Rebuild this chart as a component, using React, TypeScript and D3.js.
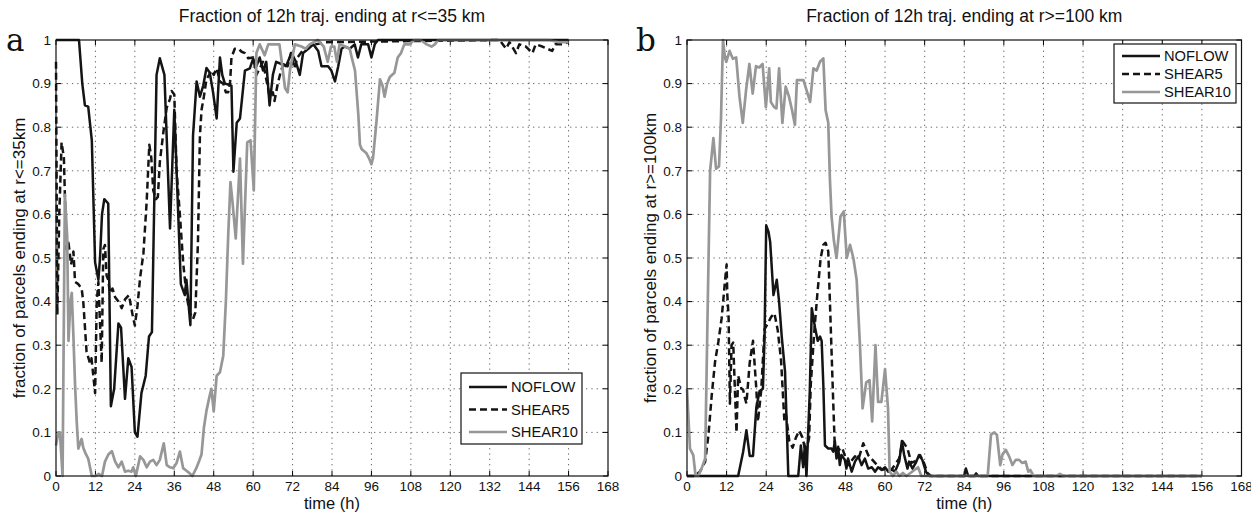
import React from 'react';
import * as d3 from 'd3';

// ---------- data ----------
const timeTicks = [0, 12, 24, 36, 48, 60, 72, 84, 96, 108, 120, 132, 144, 156, 168];
const fracTicks = [0, 0.1, 0.2, 0.3, 0.4, 0.5, 0.6, 0.7, 0.8, 0.9, 1];
const fracTickLabels = ['0', '0.1', '0.2', '0.3', '0.4', '0.5', '0.6', '0.7', '0.8', '0.9', '1'];
const seriesNames = ['NOFLOW', 'SHEAR5', 'SHEAR10'];
const titles = ['Fraction of 12h traj. ending at r<=35 km', 'Fraction of 12h traj. ending at r>=100 km'];
const yLabels = ['fraction of parcels ending at r<=35km', 'fraction of parcels ending at r>=100km'];
const xLabel = 'time (h)';
const panelLetters = ['a', 'b'];

type P = [number, number];

const aNoflow: P[] = [
  [0, 1], [7, 1], [8, 0.9], [8.8, 0.85], [9.8, 0.847], [10.9, 0.77], [11.9, 0.49], [12.9, 0.45], [13.4, 0.5],
  [14, 0.6], [14.7, 0.635], [15.9, 0.625], [16.7, 0.16], [17.7, 0.2], [19, 0.35], [19.8, 0.34], [21, 0.177],
  [22, 0.27], [23, 0.25], [24, 0.1], [24.8, 0.09], [26, 0.19], [27.3, 0.23], [28.3, 0.32], [29.2, 0.33],
  [30.6, 0.92], [31.6, 0.958], [33, 0.92], [34.7, 0.568], [36, 0.84], [38, 0.44], [39.2, 0.415], [39.7, 0.45],
  [40.9, 0.346], [41.7, 0.78], [42.8, 0.905], [43.8, 0.87], [44.8, 0.895], [45.8, 0.936], [46.8, 0.925],
  [47.8, 0.88], [48.9, 0.82], [49.9, 0.96], [50.6, 0.92], [51.4, 0.9], [52.4, 0.898], [53.4, 0.895], [54, 0.698],
  [55, 0.81], [56, 0.82], [57.5, 0.93], [59, 0.935], [60, 0.957], [61, 0.94], [62, 0.96], [63, 0.93], [64, 0.95],
  [65, 0.85], [66, 0.92], [67, 0.95], [68.6, 0.945], [70, 0.94], [71.7, 0.97], [73, 0.95], [74.2, 0.92],
  [75.2, 0.97], [76.8, 0.98], [78.3, 0.99], [79.8, 0.975], [80.8, 0.94], [82.8, 0.94], [83.8, 0.93],
  [84.9, 0.905], [85.9, 0.94], [86.9, 0.98], [87.9, 0.985], [89.4, 0.98], [90.9, 0.99], [91.9, 0.96],
  [92.9, 0.99], [95, 0.99], [96, 0.96], [97, 0.99], [98, 1], [156, 1],
];

const aShear5: P[] = [
  [0, 0.95], [0.4, 0.37], [1, 0.6], [1.7, 0.765], [2.4, 0.73], [2.7, 0.645], [3.2, 0.52], [3.8, 0.535],
  [4.6, 0.485], [5.3, 0.515], [5.8, 0.445], [6.8, 0.44], [7.8, 0.43], [8.3, 0.4], [9.3, 0.285], [10.3, 0.26],
  [10.8, 0.27], [11.9, 0.19], [12.4, 0.4], [12.9, 0.445], [13.4, 0.35], [13.9, 0.26], [14.4, 0.52], [14.9, 0.53],
  [15.4, 0.46], [15.9, 0.45], [16.4, 0.42], [17.2, 0.43], [18, 0.41], [19, 0.4], [20, 0.385], [21, 0.405],
  [22.2, 0.415], [23.3, 0.37], [24, 0.345], [24.8, 0.39], [25.6, 0.455], [26.6, 0.51], [27.6, 0.63],
  [28.4, 0.76], [29, 0.73], [29.6, 0.655], [30.4, 0.635], [31, 0.64], [31.6, 0.72], [32.7, 0.79], [33.7, 0.845],
  [34.7, 0.865], [35.2, 0.883], [36, 0.875], [36.7, 0.7], [37.7, 0.6], [38.7, 0.49], [39.7, 0.415],
  [40.7, 0.375], [41.7, 0.36], [42.4, 0.375], [43.2, 0.535], [43.8, 0.78], [44.3, 0.84], [45, 0.87],
  [45.8, 0.91], [46.6, 0.92], [47.3, 0.93], [48, 0.92], [48.9, 0.935], [49.9, 0.905], [50.9, 0.9],
  [51.7, 0.88], [52.4, 0.88], [53, 0.905], [53.4, 0.96], [54.4, 0.98], [55.5, 0.98], [56.5, 0.973],
  [57.5, 0.97], [58.5, 0.958], [60, 0.96], [61, 0.92], [62, 0.935], [63, 0.95], [64, 0.91], [65, 0.87],
  [66, 0.88], [66.5, 0.86], [67.5, 0.9], [68.5, 0.93], [69.5, 0.95], [70.5, 0.94], [71.5, 0.97], [72.5, 0.935],
  [73.5, 0.96], [75, 0.975], [77, 0.985], [79, 0.99], [82, 0.995], [135, 1], [137, 0.98], [138, 0.995],
  [140, 0.97], [141, 0.99], [143, 0.985], [145, 0.97], [146, 0.99], [148, 0.985], [151, 0.975], [152, 0.99],
  [154, 0.99], [156, 0.995],
];

const aShear10: P[] = [
  [0, 0.07], [0.7, 0.1], [1.2, 0.1], [2, 0], [2.7, 0.645], [3.4, 0.55], [3.8, 0.31], [4.4, 0.4], [4.8, 0.42],
  [5.3, 0.32], [5.8, 0.21], [6.3, 0.125], [6.8, 0.063], [7.8, 0.085], [8.3, 0.065], [9.1, 0.05], [9.8, 0.04],
  [10.9, 0], [12, 0], [13, 0.005], [14, 0], [14.9, 0.033], [16, 0.05], [17, 0.057], [18, 0.033], [19, 0.02],
  [20, 0.033], [21, 0.01], [22, 0.012], [23, 0.01], [23.5, 0.02], [24.3, 0], [25.6, 0.045], [26.6, 0.037],
  [27.6, 0.02], [28.6, 0.033], [29.6, 0.037], [30.6, 0.025], [31.6, 0.037], [32.8, 0.075], [33.7, 0.025],
  [34.7, 0.02], [35.7, 0.018], [36.7, 0.03], [37.7, 0.056], [38.7, 0.018], [39.7, 0.012], [40.7, 0.006],
  [41.5, 0], [42.7, 0.018], [43.5, 0.033], [44.3, 0.05], [45, 0.11], [45.8, 0.15], [46.8, 0.185], [47.3, 0.2],
  [48, 0.148], [48.9, 0.23], [49.9, 0.238], [50.9, 0.276], [51.7, 0.4], [52.4, 0.55], [53.1, 0.674],
  [53.7, 0.63], [54.7, 0.545], [56, 0.728], [56.9, 0.487], [58.2, 0.765], [59.2, 0.77], [60.2, 0.655],
  [61, 0.97], [62, 0.99], [63.5, 0.965], [64.6, 0.99], [66.5, 0.99], [68, 0.99], [68.7, 0.95], [69.7, 0.89],
  [70.5, 0.88], [71.2, 0.93], [72.7, 0.99], [74.7, 0.985], [76, 0.98], [77.2, 0.99], [79.7, 1], [81.5, 0.985],
  [82.7, 0.95], [83.7, 0.985], [84.7, 0.985], [85.5, 0.95], [86.3, 0.99], [88, 0.985], [89.4, 0.98], [90, 0.96],
  [91, 0.93], [92, 0.83], [92.5, 0.76], [93, 0.75], [94.5, 0.74], [95.5, 0.725], [96, 0.715], [96.5, 0.73],
  [97.5, 0.81], [98.6, 0.91], [99.4, 0.895], [100, 0.87], [100.8, 0.9], [101.6, 0.915], [103, 0.925],
  [104, 0.96], [105, 0.97], [106, 0.99], [107.6, 0.99], [109, 1], [111, 1], [112.8, 0.99], [114.3, 0.985],
  [115.3, 0.99], [116.3, 1], [150, 1], [153, 0.995], [156, 0.995],
];

const bNoflow: P[] = [
  [0, 0], [15.5, 0], [17, 0.055], [18, 0.105], [19, 0.046], [20, 0.046], [21, 0.157], [22, 0.195], [23, 0.2],
  [23.5, 0.32], [24, 0.575], [24.7, 0.56], [25.2, 0.537], [25.7, 0.476], [26.2, 0.415], [27.2, 0.45],
  [27.9, 0.4], [28.7, 0.32], [29.7, 0.24], [30.7, 0], [33.7, 0], [34.5, 0.07], [35.2, 0.02], [35.7, 0.07],
  [36.2, 0], [37.2, 0.195], [37.8, 0.385], [38.8, 0.34], [39.6, 0.31], [40.3, 0.32], [40.8, 0.31], [41.3, 0.21],
  [41.8, 0.07], [42.8, 0.063], [43.8, 0.063], [44.3, 0.056], [44.8, 0.08], [45.3, 0.04], [45.8, 0.067],
  [46.3, 0.025], [46.8, 0.048], [47.8, 0.037], [48.3, 0.017], [48.8, 0.04], [49.9, 0.01], [50.9, 0.033],
  [51.9, 0.045], [52.9, 0.025], [53.9, 0.04], [54.9, 0.017], [56, 0.02], [57, 0.01], [57.9, 0.02], [59, 0.014],
  [60, 0.02], [61, 0.01], [62, 0.015], [63, 0.01], [64.3, 0.033], [65.1, 0.08], [65.8, 0.048], [66.8, 0.017],
  [67.3, 0.033], [68.3, 0.017], [69.3, 0.03], [70.3, 0.048], [71.3, 0.037], [72.4, 0.01], [73.4, 0], [84, 0],
  [84.5, 0.017], [85.2, 0], [87, 0], [87.6, 0.006], [88.2, 0], [156, 0],
];

const bShear5: P[] = [
  [0, 0], [2.4, 0], [3.9, 0.01], [5.5, 0.033], [6.5, 0.094], [7.5, 0.186], [8.5, 0.262], [9.5, 0.308],
  [10.5, 0.362], [11.5, 0.446], [12, 0.485], [12.2, 0.418], [12.6, 0.364], [13, 0.166], [13.5, 0.3], [14, 0.306],
  [14.5, 0.2], [15, 0.1], [15.5, 0.23], [16, 0.215], [16.5, 0.2], [17, 0.198], [17.5, 0.18], [18, 0.166],
  [19, 0.26], [20, 0.31], [21, 0.2], [21.5, 0.125], [22.5, 0.198], [23.5, 0.337], [24.5, 0.35], [25.5, 0.365],
  [26.5, 0.373], [27.5, 0.334], [28.5, 0.265], [29.5, 0.127], [30, 0.14], [31, 0.08], [32, 0.065], [33, 0.088],
  [34, 0.104], [35, 0.088], [36, 0.053], [37, 0.088], [37.5, 0.21], [38.5, 0.325], [39.5, 0.418], [40.5, 0.5],
  [41.3, 0.53], [42, 0.535], [42.8, 0.515], [43.3, 0.4], [43.8, 0.285], [44.3, 0.17], [44.8, 0.063], [46, 0.06],
  [47, 0.065], [48.8, 0.025], [50.9, 0.045], [52, 0.04], [53.4, 0.075], [54.9, 0.048], [57, 0.03], [59, 0.015],
  [62, 0.015], [64.3, 0.04], [65.3, 0.08], [66.8, 0.063], [68, 0.03], [69.5, 0.035], [70.6, 0.048], [71.8, 0.03],
  [72.9, 0.006], [74, 0], [156, 0],
];

const bShear10: P[] = [
  [0, 0.2], [0.9, 0.063], [1.9, 0.048], [2.6, 0], [3.4, 0], [4.4, 0.017], [5.5, 0.04], [6.3, 0.4], [7, 0.7],
  [8, 0.775], [8.8, 0.705], [9.7, 0.71], [10.3, 0.82], [10.9, 1], [11.5, 0.96], [11.9, 0.95], [12.9, 0.975],
  [13.9, 0.957], [14.9, 0.96], [15.9, 0.87], [16.9, 0.81], [17.9, 0.885], [18.9, 0.945], [19.9, 0.877],
  [20.9, 0.94], [21.9, 0.937], [22.9, 0.945], [23.9, 0.846], [24.9, 0.935], [25.4, 0.858], [26.4, 0.846],
  [27.1, 0.843], [27.9, 0.935], [28.9, 0.81], [29.9, 0.893], [30.9, 0.87], [31.8, 0.84], [32.7, 0.805],
  [33.3, 0.908], [34.3, 0.908], [35.3, 0.908], [36, 0.89], [37.3, 0.858], [38.3, 0.935], [39.3, 0.93],
  [40.3, 0.95], [41.3, 0.958], [42, 0.839], [42.8, 0.81], [43.3, 0.68], [43.8, 0.595], [44.5, 0.54],
  [45.3, 0.5], [46.5, 0.595], [47.5, 0.607], [48.4, 0.5], [49.4, 0.53], [50.4, 0.5], [51.4, 0.45], [52.4, 0.3],
  [53.2, 0.155], [54.3, 0.215], [55.3, 0.22], [56.1, 0.125], [57.1, 0.3], [57.9, 0.17], [58.9, 0.17],
  [60, 0.245], [60.9, 0.155], [61.4, 0.01], [62.4, 0], [63.4, 0.01], [64.4, 0], [65.4, 0.007], [66.5, 0],
  [70, 0.02], [71, 0], [91.1, 0], [92.1, 0.095], [93.1, 0.1], [93.9, 0.094], [94.9, 0.025], [95.6, 0.05],
  [96.6, 0.06], [97.6, 0.045], [98.6, 0.025], [99.6, 0.037], [100.6, 0.037], [101.6, 0.03], [102.6, 0.033],
  [103.4, 0.01], [104, 0.014], [105, 0], [112, 0], [113, 0.005], [114, 0], [156, 0],
];

// ---------- styles / layout ----------
const lineStyles = [
  { stroke: '#141414', width: 2.5, dash: undefined as string | undefined },
  { stroke: '#141414', width: 2.5, dash: '7,4' },
  { stroke: '#979797', width: 2.7, dash: undefined as string | undefined },
];

const FONT = 'Arial, "Liberation Sans", Helvetica, sans-serif';

const panels = [
  {
    x0: 56, x1: 608, y0: 40, y1: 476,
    series: [aNoflow, aShear5, aShear10],
    legend: { x: 461, y: 373, w: 121, h: 71, rows: [387, 409.5, 432], lx0: 469, lx1: 507, tx: 511 },
    letterX: 6,
  },
  {
    x0: 687, x1: 1241.5, y0: 40, y1: 476,
    series: [bNoflow, bShear5, bShear10],
    legend: { x: 1114, y: 44, w: 122, h: 59, rows: [56, 74, 92], lx0: 1122, lx1: 1160, tx: 1164 },
    letterX: 636,
  },
];

function Panel({ idx }: { idx: number }) {
  const p = panels[idx];
  const x = d3.scaleLinear().domain([0, 168]).range([p.x0, p.x1]);
  const y = d3.scaleLinear().domain([0, 1]).range([p.y1, p.y0]);
  const line = d3.line<P>().x((d) => x(d[0])).y((d) => y(d[1]));
  const cx = (p.x0 + p.x1) / 2;
  const cy = (p.y0 + p.y1) / 2;
  const tl = 5;
  return (
    <g>
      <rect x={p.x0} y={p.y0} width={p.x1 - p.x0} height={p.y1 - p.y0} fill="#fff" />
      {/* grid */}
      {timeTicks.slice(1, -1).map((t) => (
        <line key={'gx' + t} x1={x(t)} x2={x(t)} y1={p.y0} y2={p.y1} stroke="#666" strokeWidth={1} strokeDasharray="1.3,4" />
      ))}
      {fracTicks.slice(1, -1).map((v) => (
        <line key={'gy' + v} x1={p.x0} x2={p.x1} y1={y(v)} y2={y(v)} stroke="#666" strokeWidth={1} strokeDasharray="1.3,4" />
      ))}
      {/* ticks */}
      {timeTicks.map((t) => (
        <g key={'tx' + t}>
          <line x1={x(t)} x2={x(t)} y1={p.y1} y2={p.y1 - tl} stroke="#000" />
          <line x1={x(t)} x2={x(t)} y1={p.y0} y2={p.y0 + tl} stroke="#000" />
          <text x={x(t)} y={p.y1 + 15} textAnchor="middle" fontSize={13.5} fontFamily={FONT} fill="#111">{t}</text>
        </g>
      ))}
      {fracTicks.map((v, i) => (
        <g key={'ty' + v}>
          <line x1={p.x0} x2={p.x0 + tl} y1={y(v)} y2={y(v)} stroke="#000" />
          <line x1={p.x1} x2={p.x1 - tl} y1={y(v)} y2={y(v)} stroke="#000" />
          <text x={p.x0 - 5} y={y(v)} dy="0.36em" textAnchor="end" fontSize={13.5} fontFamily={FONT} fill="#111">{fracTickLabels[i]}</text>
        </g>
      ))}
      {/* series */}
      {p.series.map((s, i) => (
        <path key={'s' + i} d={line(s) || ''} fill="none" stroke={lineStyles[i].stroke} strokeWidth={lineStyles[i].width}
          strokeDasharray={lineStyles[i].dash} strokeLinejoin="round" />
      ))}
      {/* frame */}
      <rect x={p.x0} y={p.y0} width={p.x1 - p.x0} height={p.y1 - p.y0} fill="none" stroke="#111" strokeWidth={1.2} />
      {/* legend */}
      <rect x={p.legend.x} y={p.legend.y} width={p.legend.w} height={p.legend.h} fill="#fff" stroke="#111" strokeWidth={1.2} />
      {seriesNames.map((n, i) => (
        <g key={'lg' + n}>
          <line x1={p.legend.lx0} x2={p.legend.lx1} y1={p.legend.rows[i]} y2={p.legend.rows[i]} stroke={lineStyles[i].stroke}
            strokeWidth={lineStyles[i].width} strokeDasharray={lineStyles[i].dash} />
          <text x={p.legend.tx} y={p.legend.rows[i]} dy="0.36em" fontSize={14.7} fontFamily={FONT} fill="#111">{n}</text>
        </g>
      ))}
      {/* labels */}
      <text x={cx} y={22} textAnchor="middle" fontSize={17.5} fontFamily={FONT} fill="#111">{titles[idx]}</text>
      <text x={cx} y={509} textAnchor="middle" fontSize={16.5} fontFamily={FONT} fill="#111">{xLabel}</text>
      <text transform={`translate(${p.x0 - 31},${cy}) rotate(-90)`} textAnchor="middle" fontSize={17} fontFamily={FONT} fill="#111">{yLabels[idx]}</text>
      <text x={p.letterX} y={51} fontSize={31} fontFamily='"DejaVu Serif", "Liberation Serif", serif' fill="#111">{panelLetters[idx]}</text>
    </g>
  );
}

export default function App() {
  return (
    <div style={{ position: 'absolute', left: 0, top: 0 }}>
      <svg width={1251} height={512} style={{ display: 'block', background: '#fff' }}>
        <rect x={0} y={0} width={1251} height={512} fill="#fff" />
        <Panel idx={0} />
        <Panel idx={1} />
      </svg>
    </div>
  );
}
